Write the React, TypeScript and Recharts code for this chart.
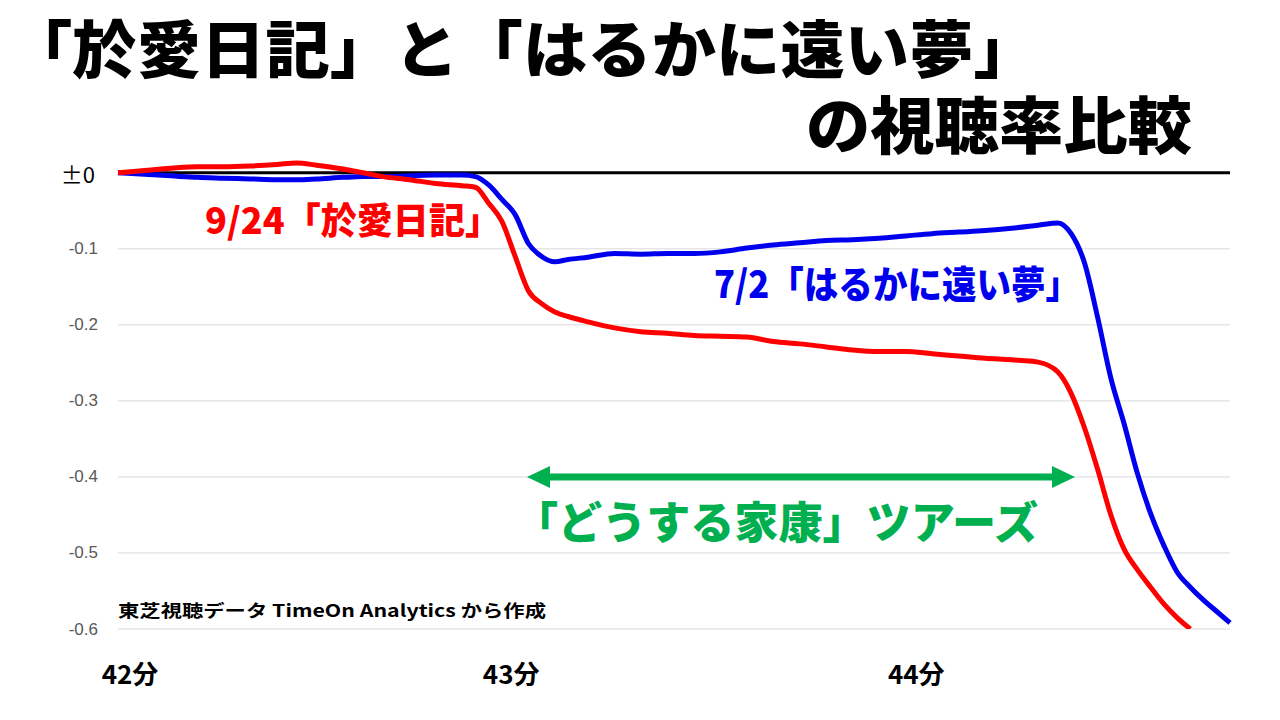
import { LineChart, Line, XAxis, YAxis, ReferenceLine } from 'recharts';

// seconds after 42:00
const seconds = [0, 4, 8, 12, 16, 20, 24, 27, 30, 34, 37, 40, 44, 48, 52, 54, 56, 58, 60, 62, 64, 66, 68, 71, 75, 79, 83, 87, 91, 95, 99, 103, 107, 111, 115, 119, 123, 127, 131, 135, 139, 142, 144, 146, 148, 150, 152, 154, 156, 158, 160, 162, 164, 166, 168];

// 9/24「於愛日記」
const oaiNikki = [0.000, 0.003, 0.006, 0.008, 0.008, 0.009, 0.011, 0.013, 0.010, 0.005, 0.000, -0.005, -0.009, -0.014, -0.017, -0.019, -0.040, -0.064, -0.110, -0.155, -0.172, -0.183, -0.189, -0.196, -0.204, -0.209, -0.211, -0.214, -0.215, -0.216, -0.222, -0.225, -0.229, -0.233, -0.235, -0.235, -0.238, -0.241, -0.244, -0.246, -0.249, -0.262, -0.290, -0.335, -0.390, -0.450, -0.495, -0.522, -0.545, -0.567, -0.585, -0.600, null, null, null];

// 7/2「はるかに遠い夢」
const harukaYume = [0.000, -0.002, -0.004, -0.006, -0.007, -0.008, -0.009, -0.009, -0.008, -0.006, -0.005, -0.005, -0.004, -0.003, -0.003, -0.005, -0.016, -0.035, -0.055, -0.093, -0.110, -0.117, -0.114, -0.111, -0.106, -0.107, -0.106, -0.106, -0.104, -0.099, -0.095, -0.092, -0.089, -0.088, -0.086, -0.083, -0.080, -0.078, -0.076, -0.073, -0.069, -0.066, -0.080, -0.118, -0.190, -0.270, -0.330, -0.395, -0.448, -0.490, -0.525, -0.545, -0.562, -0.577, -0.592];

const yTicks = [0, -0.1, -0.2, -0.3, -0.4, -0.5, -0.6];
const xTicks = [0, 60, 120];
const xLabels = ['42分', '43分', '44分'];

const data = seconds.map((t, i) => ({ t, oai: oaiNikki[i], haruka: harukaYume[i] }));

const JP = '"Noto Sans CJK JP", "Noto Sans", sans-serif';

const YTick = ({ y, payload }: any) => {
  const zero = payload.value === 0;
  return (
    <text
      x={zero ? 95 : 98}
      y={y}
      textAnchor="end"
      dominantBaseline="central"
      fontFamily={zero ? JP : '"Liberation Sans", Arial, sans-serif'}
      fontSize={zero ? 22 : 17}
      fill={zero ? '#000' : '#595959'}
    >
      {zero ? '±0' : payload.value.toFixed(1)}
    </text>
  );
};

const XTick = ({ x, payload }: any) => {
  const i = xTicks.indexOf(payload.value);
  const dx = i === 0 ? 12 : i === 1 ? -4 : 4;
  return (
    <text
      x={x + dx}
      y={672}
      textAnchor="middle"
      dominantBaseline="central"
      fontFamily={JP}
      fontWeight={700}
      fontSize={26}
      fill="#000"
    >
      {xLabels[i]}
    </text>
  );
};

export default function App() {
  return (
    <div style={{ position: 'absolute', left: 0, top: 0, width: 1280, height: 720, background: '#fff' }}>
      <LineChart width={1280} height={720} data={data} margin={{ top: 150, right: 50, bottom: 61, left: 0 }}>
        <XAxis
          dataKey="t"
          type="number"
          domain={[0, 168]}
          ticks={xTicks}
          axisLine={false}
          tickLine={false}
          height={30}
          tick={<XTick />}
        />
        <YAxis
          type="number"
          domain={[-0.6, 0.03]}
          ticks={yTicks}
          allowDataOverflow
          axisLine={false}
          tickLine={false}
          width={118}
          tick={<YTick />}
        />
        {yTicks.filter((v) => v !== 0).map((v) => (
          <ReferenceLine key={v} y={v} stroke="#d9d9d9" strokeWidth={1} />
        ))}
        <ReferenceLine y={0} stroke="#000" strokeWidth={3} />
        <Line dataKey="haruka" type="monotone" stroke="#0000ee" strokeWidth={5} dot={false} isAnimationActive={false} />
        <Line dataKey="oai" type="monotone" stroke="#ff0000" strokeWidth={5} dot={false} isAnimationActive={false} />
      </LineChart>

      <svg width={1280} height={720} style={{ position: 'absolute', left: 0, top: 0, pointerEvents: 'none' }}>
        <text x={8} y={46} dominantBaseline="central" fontFamily={JP} fontWeight={900} fontSize={62} fill="#000" textLength={1030} lengthAdjust="spacingAndGlyphs">
          「於愛日記」と「はるかに遠い夢」
        </text>
        <text x={806} y={122} dominantBaseline="central" fontFamily={JP} fontWeight={900} fontSize={62} fill="#000" textLength={386} lengthAdjust="spacingAndGlyphs">
          の視聴率比較
        </text>

        <text x={205} y={218} dominantBaseline="central" fontFamily={JP} fontWeight={900} fontSize={36} fill="#ff0000" textLength={296} lengthAdjust="spacingAndGlyphs">
          9/24「於愛日記」
        </text>
        <text x={714} y={281} dominantBaseline="central" fontFamily={JP} fontWeight={900} fontSize={38} fill="#0000ee" textLength={366} lengthAdjust="spacingAndGlyphs">
          7/2「はるかに遠い夢」
        </text>

        <line x1={545} y1={477} x2={1055} y2={477} stroke="#00b050" strokeWidth={7} />
        <polygon points="527,477 550,466 550,488" fill="#00b050" />
        <polygon points="1075,477 1052,466 1052,488" fill="#00b050" />
        <text x={514} y={520} dominantBaseline="central" fontFamily={JP} fontWeight={900} fontSize={44} fill="#00b050" textLength={524} lengthAdjust="spacingAndGlyphs">
          「どうする家康」ツアーズ
        </text>

        <text x={118} y={609} dominantBaseline="central" fontFamily={JP} fontWeight={700} fontSize={17} fill="#000" textLength={428} lengthAdjust="spacingAndGlyphs">
          東芝視聴データ TimeOn Analytics から作成
        </text>
      </svg>
    </div>
  );
}
